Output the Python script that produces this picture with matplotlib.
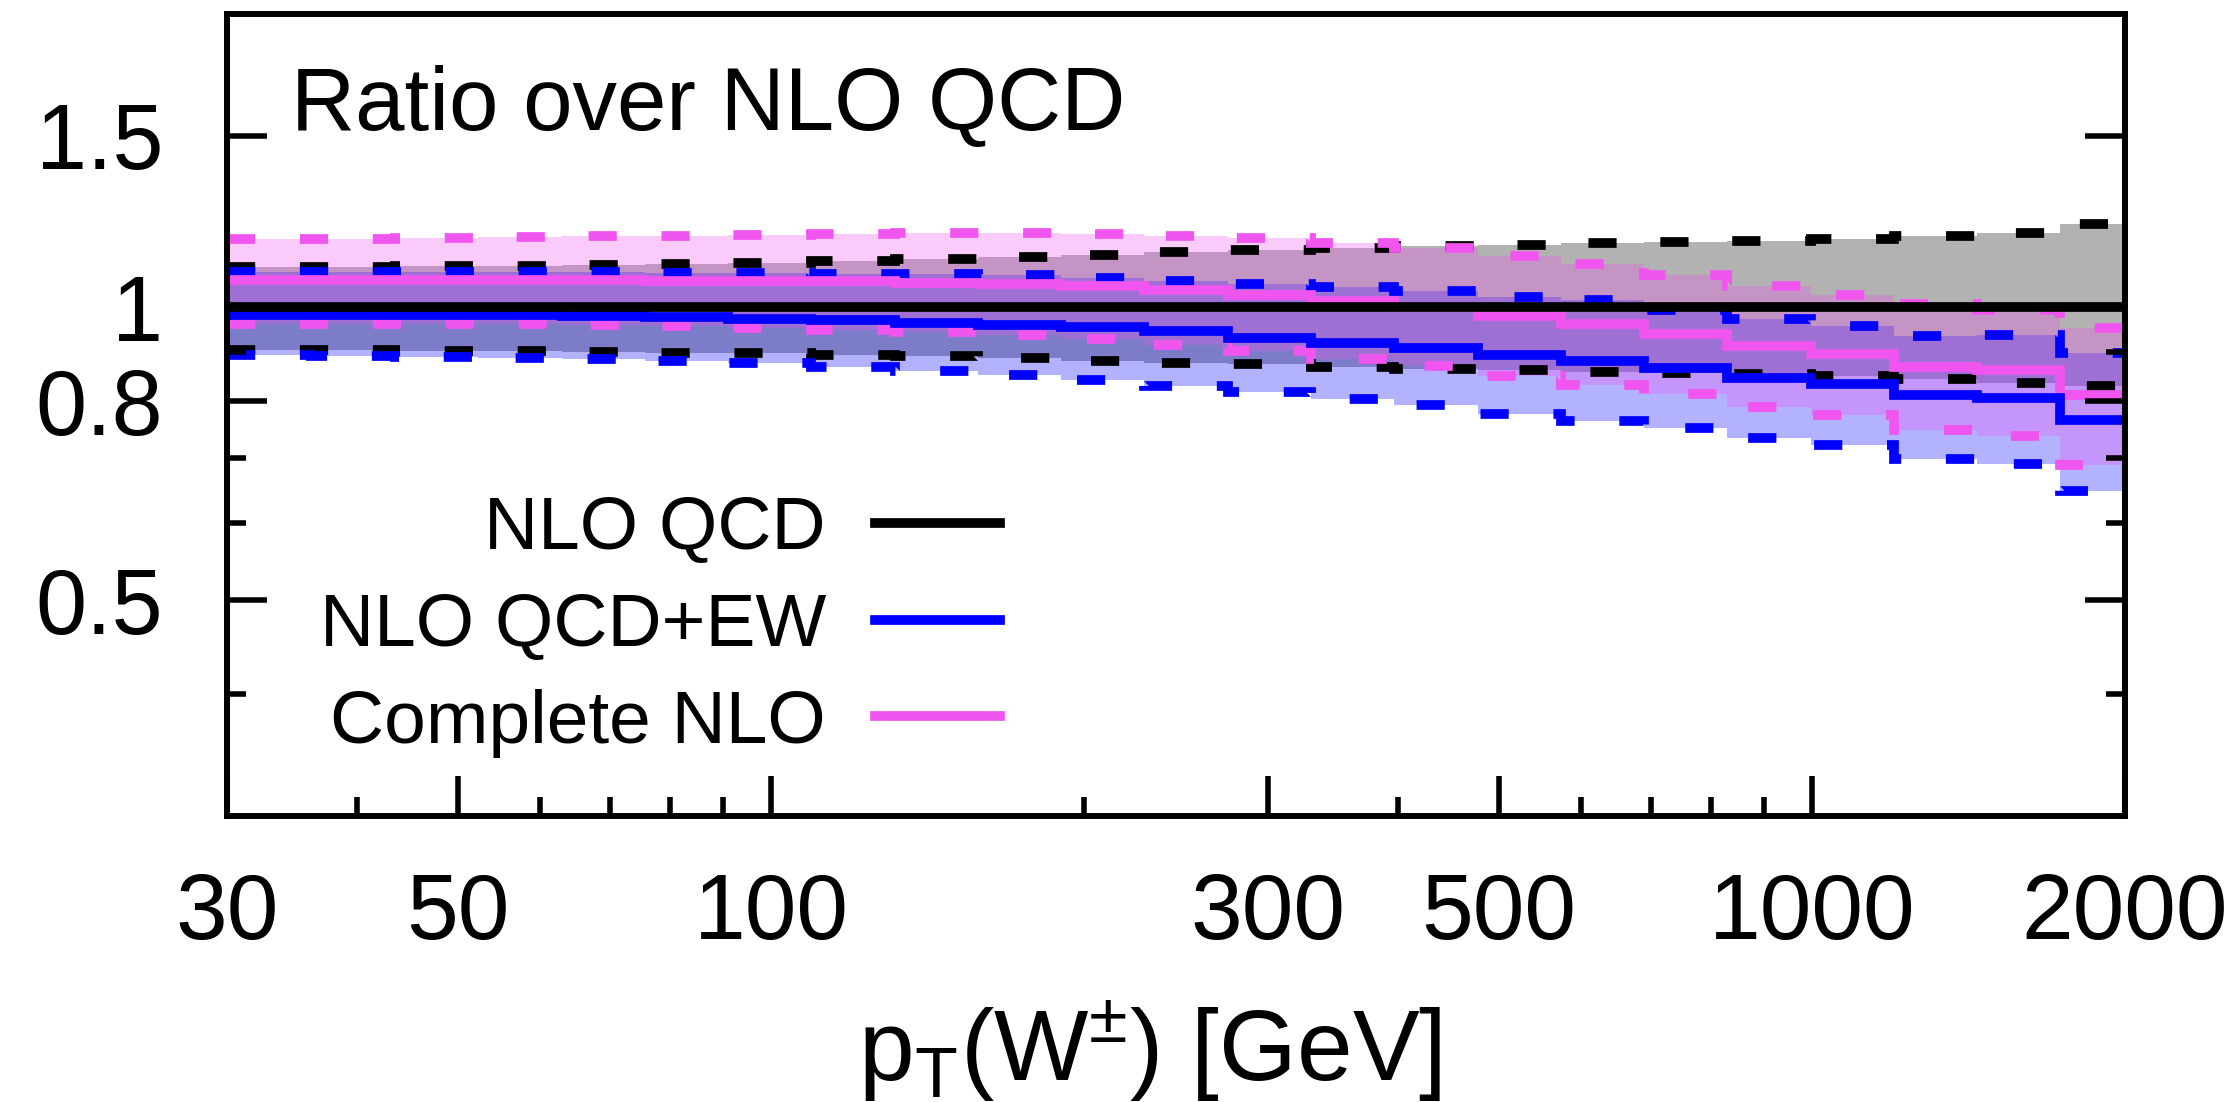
import matplotlib
matplotlib.use("Agg")
import matplotlib.pyplot as plt
from matplotlib.ticker import FixedLocator, FixedFormatter, NullFormatter

plt.rcParams['font.family'] = ['Liberation Sans', 'DejaVu Sans']

# bin edges of the pT(W) histogram [GeV]
edges = [30.0, 36.1, 43.5, 52.3, 62.9, 75.6, 90.9, 109.3, 131.4, 158.0, 190.0,
         228.4, 274.6, 330.2, 397.0, 477.3, 573.9, 690.0, 829.6, 997.4, 1199.2,
         1441.8, 1733.5, 2084.3]

# NLO QCD (reference) and its scale band
nlo_c = [1.0, 1.0, 1.0, 1.0, 1.0, 1.0, 1.0, 1.0, 1.0, 1.0, 1.0, 1.0,
         1.0, 1.0, 1.0, 1.0, 1.0, 1.0, 1.0, 1.0, 1.0, 1.0, 1.0]
nlo_up = [1.099, 1.099, 1.102, 1.103, 1.104, 1.107, 1.110, 1.116, 1.120, 1.125, 1.132, 1.139,
          1.145, 1.150, 1.155, 1.159, 1.164, 1.166, 1.170, 1.174, 1.184, 1.192, 1.216]
nlo_dn = [0.903, 0.903, 0.902, 0.901, 0.900, 0.897, 0.896, 0.892, 0.890, 0.886, 0.881, 0.876,
          0.873, 0.868, 0.864, 0.861, 0.858, 0.855, 0.853, 0.850, 0.843, 0.836, 0.830]

# NLO QCD+EW
ew_c = [0.981, 0.981, 0.981, 0.981, 0.980, 0.977, 0.972, 0.969, 0.964, 0.959, 0.953, 0.944,
        0.930, 0.919, 0.908, 0.893, 0.880, 0.866, 0.846, 0.833, 0.812, 0.807, 0.765]
ew_up = [1.086, 1.086, 1.086, 1.086, 1.086, 1.085, 1.084, 1.082, 1.080, 1.078, 1.072, 1.064,
         1.056, 1.048, 1.039, 1.025, 1.016, 0.992, 0.971, 0.956, 0.933, 0.935, 0.898]
ew_dn = [0.892, 0.891, 0.889, 0.887, 0.885, 0.880, 0.875, 0.868, 0.860, 0.852, 0.841, 0.829,
         0.818, 0.805, 0.793, 0.777, 0.764, 0.752, 0.733, 0.721, 0.698, 0.690, 0.647]

# Complete NLO
cnlo_c = [1.065, 1.065, 1.065, 1.065, 1.065, 1.064, 1.064, 1.063, 1.059, 1.055, 1.050, 1.040,
          1.030, 1.014, 1.000, 0.979, 0.960, 0.938, 0.912, 0.894, 0.868, 0.861, 0.813]
cnlo_up = [1.175, 1.175, 1.177, 1.180, 1.182, 1.184, 1.186, 1.188, 1.190, 1.190, 1.188, 1.184,
           1.176, 1.163, 1.149, 1.128, 1.106, 1.079, 1.052, 1.030, 1.008, 0.992, 0.952]
cnlo_dn = [0.960, 0.960, 0.960, 0.960, 0.958, 0.955, 0.952, 0.948, 0.942, 0.936, 0.927, 0.915,
           0.901, 0.885, 0.870, 0.849, 0.831, 0.814, 0.790, 0.774, 0.747, 0.737, 0.688]

xticks = [30, 50, 100, 300, 500, 1000, 2000]
xticklabels = ["30", "50", "100", "300", "500", "1000", "2000"]
xminor = [40, 60, 70, 80, 90, 200, 400, 600, 700, 800, 900]
yticks = [0.5, 0.8, 1.0, 1.5]
yticklabels = ["0.5", "0.8", "1", "1.5"]
yminor = [0.4, 0.6, 0.7, 0.9]

series = [
    ("NLO QCD", "#000000", nlo_c, nlo_up, nlo_dn),
    ("NLO QCD+EW", "#0000ff", ew_c, ew_up, ew_dn),
    ("Complete NLO", "#f055f0", cnlo_c, cnlo_up, cnlo_dn),
]

fig = plt.figure(figsize=(22.25, 11.02), dpi=100)
ax = fig.add_axes([0.1020, 0.2595, 0.8531, 0.7278])
ax.set_xscale("log")
ax.set_yscale("log")

lw = 7.0
dash = (0, (2.9, 4.6))

# bands first, then dashed edges, then the central lines
for name, col, c, up, dn in series:
    ax.stairs(up, edges, baseline=dn, fill=True, color=col, alpha=0.3, lw=0)
for name, col, c, up, dn in series:
    ax.stairs(up, edges, baseline=None, color=col, lw=lw, linestyle=dash)
    ax.stairs(dn, edges, baseline=None, color=col, lw=lw, linestyle=dash)
for name, col, c, up, dn in reversed(series):
    ax.stairs(c, edges, baseline=None, color=col, lw=lw)

ax.set_xlim(30, 2000)
ax.set_ylim(0.3, 2.0)

ax.xaxis.set_major_locator(FixedLocator(xticks))
ax.xaxis.set_major_formatter(FixedFormatter(xticklabels))
ax.xaxis.set_minor_locator(FixedLocator(xminor))
ax.xaxis.set_minor_formatter(NullFormatter())
ax.yaxis.set_major_locator(FixedLocator(yticks))
ax.yaxis.set_major_formatter(FixedFormatter(yticklabels))
ax.yaxis.set_minor_locator(FixedLocator(yminor))
ax.yaxis.set_minor_formatter(NullFormatter())

ax.tick_params(axis="x", which="both", direction="in", top=False, bottom=True)
ax.tick_params(axis="y", which="both", direction="in", left=True, right=True)
ax.tick_params(which="major", length=29, width=4)
ax.tick_params(which="minor", length=13.5, width=4)
ax.tick_params(axis="x", labelsize=67, pad=40)
ax.tick_params(axis="y", labelsize=66, pad=46)
for sp in ax.spines.values():
    sp.set_linewidth(4.3)

ax.set_xlabel(r"p$_{\mathregular{T}}$(W$^{\mathregular{\pm}}$) [GeV]", fontsize=72, va="baseline")
ax.xaxis.set_label_coords(0.486, -0.33)

ax.text(0.0337, 0.855, "Ratio over NLO QCD", transform=ax.transAxes,
        fontsize=64, va="baseline", ha="left")

# legend: text on the left, line sample on the right
handles = [plt.Line2D([], [], color=col, lw=lw) for _, col, _, _, _ in series]
labels = [name for name, _, _, _, _ in series]
ax.legend(handles, labels, loc="upper right", bbox_to_anchor=(0.4073, 0.40),
          frameon=False, markerfirst=False, fontsize=54, borderaxespad=0, borderpad=0,
          handlelength=1.67, handletextpad=0.65, labelspacing=0.37)

fig.savefig("out.png", dpi=100)
